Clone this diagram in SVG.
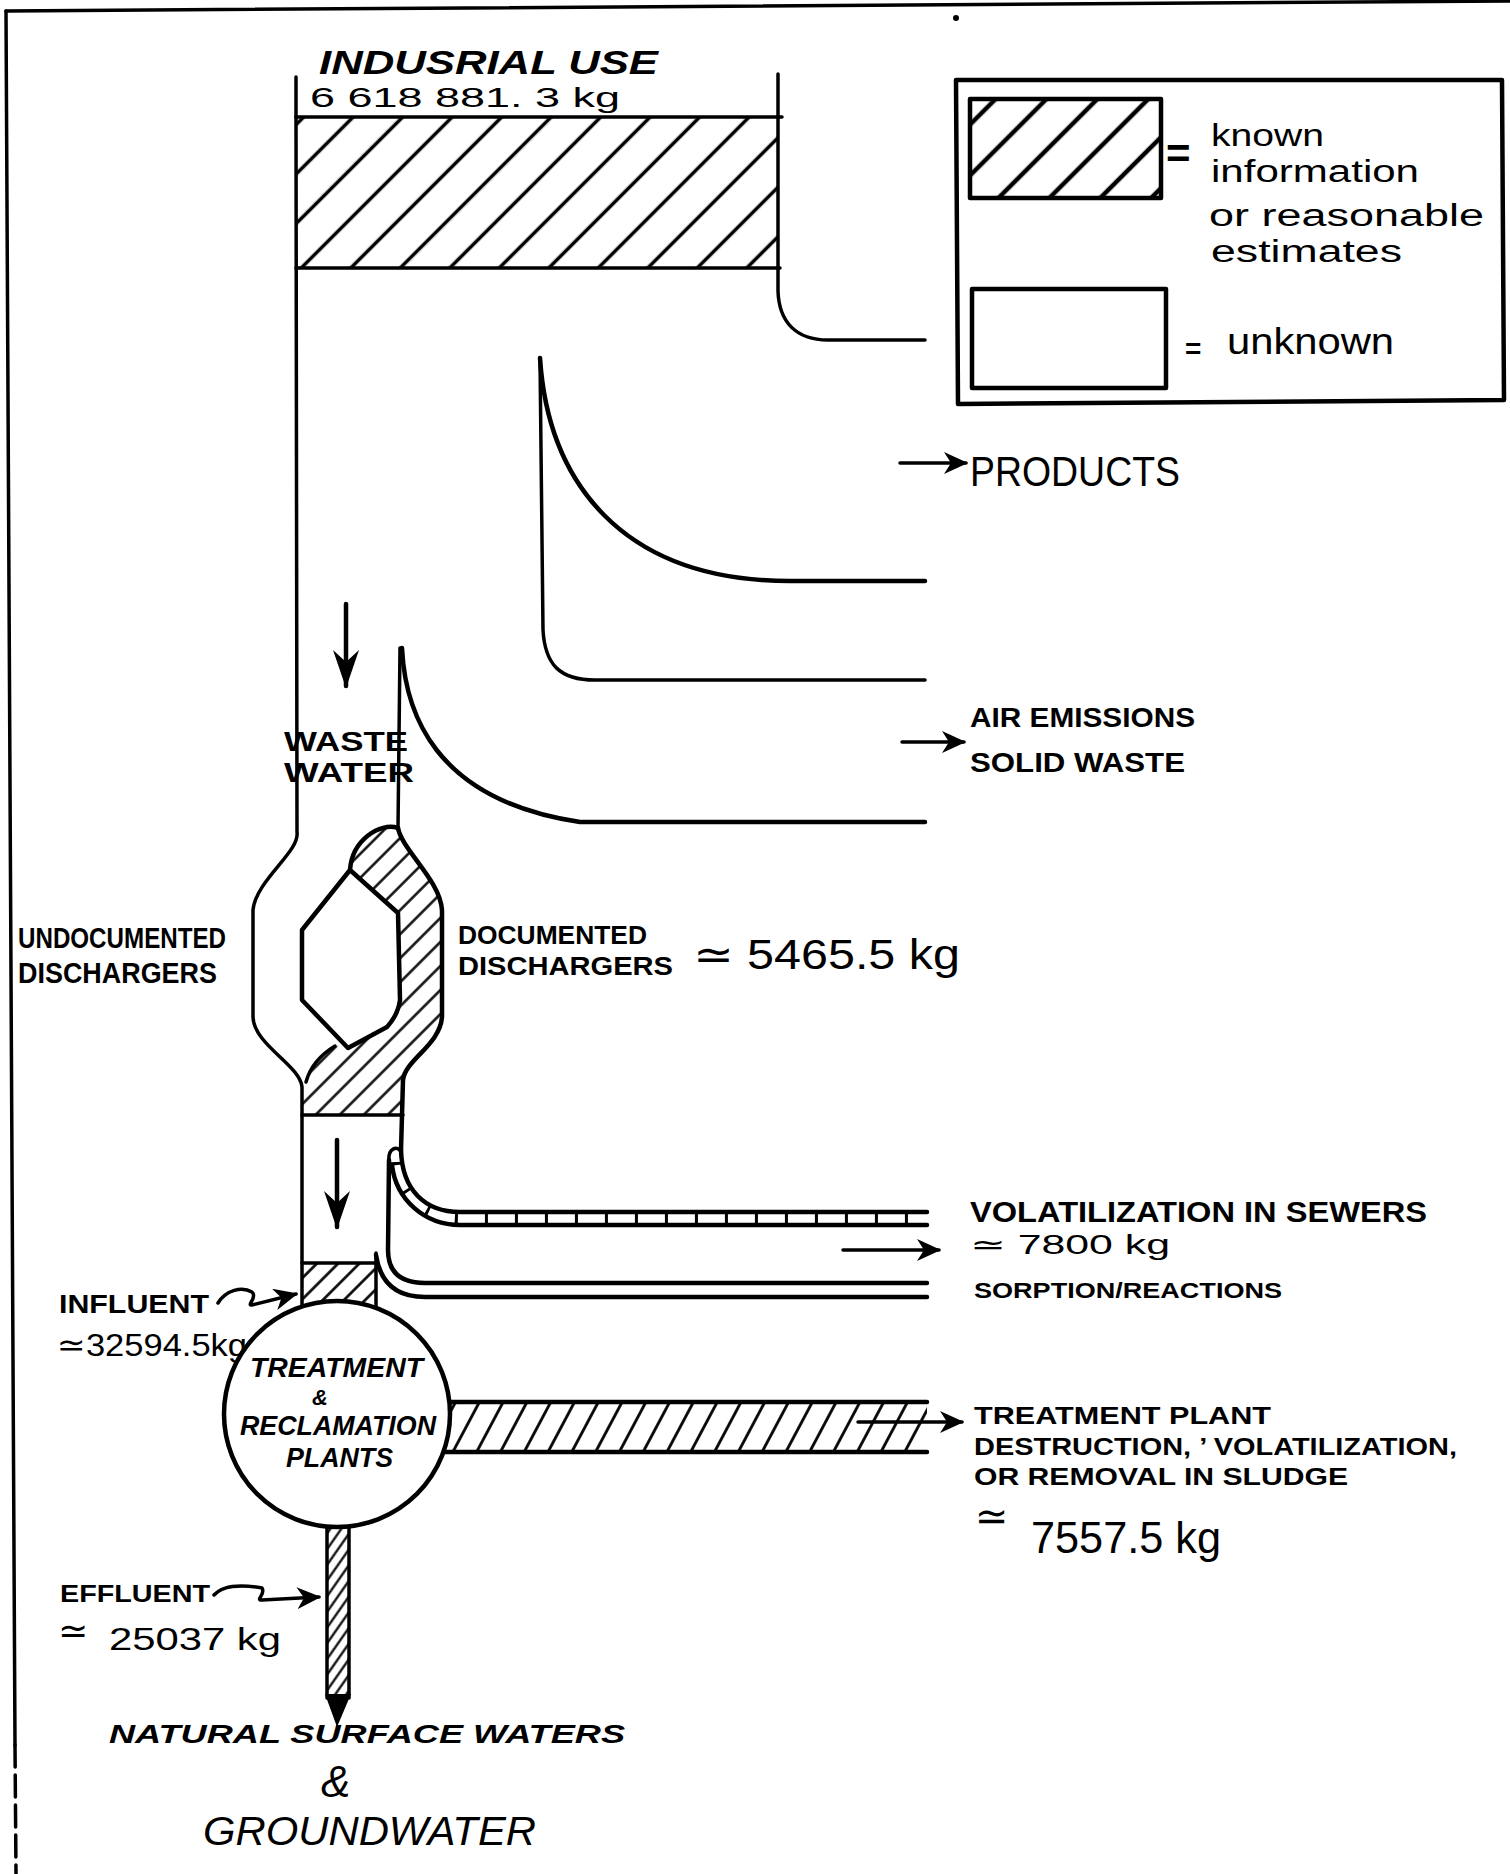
<svg xmlns="http://www.w3.org/2000/svg" width="1510" height="1874" viewBox="0 0 1510 1874">
<style>
.ln{fill:none;stroke:#000;stroke-width:3.5;stroke-linecap:round;stroke-linejoin:round}
.lt{fill:none;stroke:#000;stroke-width:4.5;stroke-linecap:round;stroke-linejoin:round}
.b{font-family:"Liberation Sans","DejaVu Sans",sans-serif;font-weight:bold;fill:#000}
.bi{font-family:"Liberation Sans","DejaVu Sans",sans-serif;font-weight:bold;font-style:italic;fill:#000}
.n{font-family:"Liberation Sans","DejaVu Sans",sans-serif;font-weight:normal;fill:#000}
.ni{font-family:"Liberation Sans","DejaVu Sans",sans-serif;font-style:italic;fill:#000}
</style>
<defs>
<pattern id="h45" patternUnits="userSpaceOnUse" width="35" height="35" patternTransform="rotate(45)"><line x1="17.5" y1="0" x2="17.5" y2="35" stroke="#000" stroke-width="3.5"/></pattern>
<pattern id="hLeg" patternUnits="userSpaceOnUse" width="36" height="36" patternTransform="rotate(45)"><line x1="18" y1="0" x2="18" y2="36" stroke="#000" stroke-width="4.5"/></pattern>
<pattern id="hS" patternUnits="userSpaceOnUse" width="17" height="17" patternTransform="rotate(45)"><line x1="8.5" y1="0" x2="8.5" y2="17" stroke="#000" stroke-width="2.4"/></pattern>
<pattern id="hInf" patternUnits="userSpaceOnUse" width="15" height="15" patternTransform="rotate(45)"><line x1="7.5" y1="0" x2="7.5" y2="15" stroke="#000" stroke-width="2.6"/></pattern>
<pattern id="hTP" patternUnits="userSpaceOnUse" width="21" height="21" patternTransform="rotate(28)"><line x1="10.5" y1="0" x2="10.5" y2="21" stroke="#000" stroke-width="2.8"/></pattern>
<pattern id="hEff" patternUnits="userSpaceOnUse" width="9" height="9" patternTransform="rotate(35)"><line x1="4.5" y1="0" x2="4.5" y2="9" stroke="#000" stroke-width="2.2"/></pattern>
<marker id="ah" viewBox="0 0 24 22" refX="22" refY="11" markerWidth="24" markerHeight="22" markerUnits="userSpaceOnUse" orient="auto"><path d="M0,0 L24,11 L0,22 L7,11 Z" fill="#000"/></marker>
<marker id="ahd" viewBox="0 0 38 28" refX="36" refY="14" markerWidth="38" markerHeight="28" markerUnits="userSpaceOnUse" orient="auto"><path d="M0,1 L38,14 L0,27 L12,14 Z" fill="#000"/></marker>
</defs>
<rect width="1510" height="1874" fill="#fff"/>

<g id="frame">
<path class="ln" d="M6,11 L1510,1"/>
<path class="ln" d="M6,11 L15,1745"/>
<path class="ln" d="M15,1745 L16,1874" stroke-dasharray="22 8"/>
<circle cx="956" cy="18" r="3" fill="#000"/>
</g>

<g id="legend">
<path class="lt" d="M956,80 L1502,80 L1504,400 L958,404 Z"/>
<rect x="970" y="99" width="191" height="99" fill="url(#hLeg)"/>
<rect x="970" y="99" width="191" height="99" class="lt"/>
<rect x="972" y="289" width="194" height="99" class="lt"/>
<text class="b" x="1166" y="168" font-size="42">=</text>
<text class="n" x="1211" y="146" font-size="31" textLength="113" lengthAdjust="spacingAndGlyphs">known</text>
<text class="n" x="1211" y="182" font-size="31" textLength="208" lengthAdjust="spacingAndGlyphs">information</text>
<text class="n" x="1209" y="226" font-size="31" textLength="275" lengthAdjust="spacingAndGlyphs">or reasonable</text>
<text class="n" x="1211" y="262" font-size="31" textLength="191" lengthAdjust="spacingAndGlyphs">estimates</text>
<text class="b" x="1185" y="358" font-size="28">=</text>
<text class="n" x="1227" y="354" font-size="36" textLength="167" lengthAdjust="spacingAndGlyphs">unknown</text>
</g>

<g id="industrial-use">
<rect x="297" y="117" width="482" height="151" fill="url(#h45)"/>
<path class="ln" d="M296,77 L296,117"/>
<path class="ln" d="M296,117 L782,117 M296,268 L780,268"/>
<text class="bi" x="319" y="74" font-size="34" textLength="339" lengthAdjust="spacingAndGlyphs">INDUSRIAL  USE</text>
<text class="n" x="310" y="107" font-size="28" textLength="310" lengthAdjust="spacingAndGlyphs">6 618 881. 3 kg</text>
</g>

<g id="flow-lines">
<path class="ln" d="M296,117 L297,832 C300,852 256,880 253,910 L253,1017 C254,1045 300,1065 302,1087 L302,1308"/>
<path class="ln" d="M778,74 L778,291 C779,322 796,340 828,340 L925,340"/>
<path class="lt" d="M540,358 C548,480 620,581 790,581 L925,581"/>
<path class="ln" d="M540,358 L543,630 C545,665 560,680 595,680 L925,680"/>
<path class="lt" d="M402,648 C405,710 432,800 580,822 L925,822"/>
<path class="ln" d="M400,648 L398,828"/>
</g>

<g id="dischargers">
<path d="M398,828 C380,822 352,840 350,870 L398,913 L400,1000 Q398,1015 387,1027 L348,1048 L335,1046 Q312,1060 304,1085 L302,1115 L403,1115 L403,1080 C405,1060 440,1045 442,1017 L442,910 C440,880 402,850 398,828 Z" fill="url(#hS)"/>
<path class="lt" d="M398,828 C402,850 440,880 442,910 L442,1017 C440,1045 405,1060 403,1080 L401,1150"/>
<path class="lt" d="M398,828 C380,822 352,840 350,870"/>
<path class="lt" d="M350,870 L302,930 L302,1000 L348,1048 L387,1027 Q398,1015 400,1000 L398,913 Z"/>
<path class="ln" d="M335,1046 Q312,1060 306,1082"/>
<path class="ln" d="M302,1115 L403,1115"/>
<text class="b" x="284" y="751" font-size="27" textLength="124" lengthAdjust="spacingAndGlyphs">WASTE</text>
<text class="b" x="284" y="782" font-size="27" textLength="130" lengthAdjust="spacingAndGlyphs">WATER</text>
<text class="b" x="18" y="948" font-size="29" textLength="208" lengthAdjust="spacingAndGlyphs">UNDOCUMENTED</text>
<text class="b" x="18" y="983" font-size="29" textLength="199" lengthAdjust="spacingAndGlyphs">DISCHARGERS</text>
<text class="b" x="458" y="944" font-size="26" textLength="189" lengthAdjust="spacingAndGlyphs">DOCUMENTED</text>
<text class="b" x="458" y="975" font-size="26" textLength="215" lengthAdjust="spacingAndGlyphs">DISCHARGERS</text>
<text class="n" x="693" y="969" font-size="42" textLength="267" lengthAdjust="spacingAndGlyphs">≃ 5465.5  kg</text>
</g>

<g id="sewer-losses">
<path d="M396,1162 C398,1198 425,1218.5 460,1218.5 L925,1218.5" fill="none" stroke="#000" stroke-width="11" stroke-dasharray="3 27"/>
<path class="lt" d="M401,1150 C402,1190 425,1212 460,1212 L927,1212"/>
<path class="ln" d="M401,1152 C398,1145 388,1148 389,1160"/>
<path class="lt" d="M392,1165 C396,1200 425,1225 460,1225 L927,1225"/>
<path class="lt" d="M389,1160 L388,1250 C388,1272 400,1283 425,1283 L927,1283"/>
<path class="lt" d="M376,1255 C380,1282 395,1297 425,1297 L927,1297"/>
<text class="b" x="970" y="1222" font-size="29" textLength="457" lengthAdjust="spacingAndGlyphs">VOLATILIZATION  IN  SEWERS</text>
<text class="n" x="970" y="1254" font-size="27" textLength="200" lengthAdjust="spacingAndGlyphs">≃ 7800 kg</text>
<text class="b" x="974" y="1298" font-size="22" textLength="308" lengthAdjust="spacingAndGlyphs">SORPTION/REACTIONS</text>
</g>

<g id="influent">
<rect x="302" y="1263" width="74" height="48" fill="url(#hInf)"/>
<path class="ln" d="M302,1263 L376,1263 M376,1253 L376,1308"/>
<text class="b" x="59" y="1313" font-size="26" textLength="150" lengthAdjust="spacingAndGlyphs">INFLUENT</text>
<text class="n" x="57" y="1356" font-size="32" textLength="190" lengthAdjust="spacingAndGlyphs">≃32594.5kg</text>
</g>

<g id="treatment-pipe">
<rect x="440" y="1402" width="487" height="50" fill="url(#hTP)"/>
<path class="lt" d="M440,1402 L927,1402 M440,1452 L927,1452"/>
<text class="b" x="974" y="1424" font-size="24" textLength="297" lengthAdjust="spacingAndGlyphs">TREATMENT  PLANT</text>
<text class="b" x="974" y="1455" font-size="24" textLength="483" lengthAdjust="spacingAndGlyphs">DESTRUCTION, ’ VOLATILIZATION,</text>
<text class="b" x="974" y="1485" font-size="24" textLength="374" lengthAdjust="spacingAndGlyphs">OR  REMOVAL  IN  SLUDGE</text>
<text class="n" x="975" y="1530" font-size="40">≃</text>
<text class="n" x="1031" y="1553" font-size="44" textLength="190" lengthAdjust="spacingAndGlyphs">7557.5 kg</text>
</g>

<g id="effluent">
<rect x="327" y="1520" width="22" height="178" fill="url(#hEff)"/>
<path class="ln" d="M327,1520 L327,1698 M349,1520 L349,1698"/>
<path d="M325,1694 L351,1694 L337,1727 Z" fill="#000"/>
<text class="b" x="60" y="1602" font-size="24" textLength="150" lengthAdjust="spacingAndGlyphs">EFFLUENT</text>
<text class="n" x="58" y="1643" font-size="36">≃</text>
<text class="n" x="109" y="1650" font-size="32" textLength="172" lengthAdjust="spacingAndGlyphs">25037 kg</text>
</g>

<g id="treatment-plant">
<circle cx="337" cy="1414" r="113" fill="#fff" stroke="#000" stroke-width="4.5"/>
<text class="bi" x="250" y="1377" font-size="27" textLength="173" lengthAdjust="spacingAndGlyphs">TREATMENT</text>
<text class="bi" x="312" y="1405" font-size="22">&amp;</text>
<text class="bi" x="240" y="1435" font-size="27" textLength="196" lengthAdjust="spacingAndGlyphs">RECLAMATION</text>
<text class="bi" x="286" y="1467" font-size="27" textLength="107" lengthAdjust="spacingAndGlyphs">PLANTS</text>
</g>

<g id="receiving-waters">
<text class="bi" x="109" y="1743" font-size="26" textLength="516" lengthAdjust="spacingAndGlyphs">NATURAL  SURFACE  WATERS</text>
<text class="ni" x="321" y="1797" font-size="44">&amp;</text>
<text class="ni" x="203" y="1845" font-size="40" textLength="333" lengthAdjust="spacingAndGlyphs">GROUNDWATER</text>
</g>

<g id="products-label">
<text class="n" x="970" y="486" font-size="43" textLength="210" lengthAdjust="spacingAndGlyphs">PRODUCTS</text>
</g>
<g id="emissions-label">
<text class="b" x="970" y="727" font-size="27" textLength="225" lengthAdjust="spacingAndGlyphs">AIR EMISSIONS</text>
<text class="b" x="970" y="772" font-size="27" textLength="215" lengthAdjust="spacingAndGlyphs">SOLID WASTE</text>
</g>

<g id="connectors">
<path class="ln" d="M900,463 L966,463" marker-end="url(#ah)"/>
<path class="ln" d="M902,742 L964,742" marker-end="url(#ah)"/>
<path class="ln" d="M843,1250 L939,1250" marker-end="url(#ah)"/>
<path class="ln" d="M858,1422 L962,1422" marker-end="url(#ah)"/>
<path class="lt" d="M346,604 L346,686" marker-end="url(#ahd)"/>
<path class="lt" d="M337,1140 L337,1227" marker-end="url(#ahd)"/>
<path class="ln" d="M218,1303 C226,1290 242,1286 252,1292 C258,1297 246,1306 252,1305 L296,1294" marker-end="url(#ah)"/>
<path class="ln" d="M214,1595 C222,1586 240,1584 262,1588 C266,1594 255,1600 262,1600 L319,1597" marker-end="url(#ah)"/>
</g>
</svg>
